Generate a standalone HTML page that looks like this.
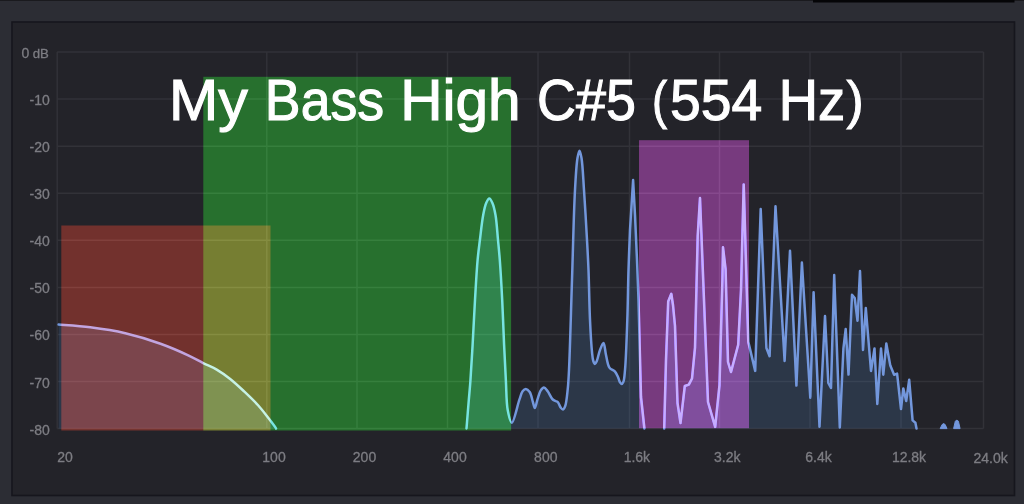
<!DOCTYPE html>
<html><head><meta charset="utf-8"><style>
html,body{margin:0;padding:0;background:#2c2d34;}
svg{display:block;}
text{font-family:"Liberation Sans",sans-serif;}
</style></head><body>
<svg width="1024" height="504" viewBox="0 0 1024 504">
<rect x="0" y="0" width="1024" height="504" fill="#2c2d34"/>
<rect x="0" y="0" width="1024" height="1" fill="#1a1a1e"/>
<rect x="813" y="0" width="201.5" height="2.5" fill="#050507"/>
<rect x="12" y="22" width="1002.5" height="473.5" fill="#232329" stroke="#16161d" stroke-width="1.6"/>
<g stroke="#323238" stroke-width="1.5" fill="none"><line x1="57.2" y1="52.1" x2="983.5" y2="52.1"/><line x1="57.2" y1="99.1" x2="983.5" y2="99.1"/><line x1="57.2" y1="146.2" x2="983.5" y2="146.2"/><line x1="57.2" y1="193.2" x2="983.5" y2="193.2"/><line x1="57.2" y1="240.3" x2="983.5" y2="240.3"/><line x1="57.2" y1="287.4" x2="983.5" y2="287.4"/><line x1="57.2" y1="334.4" x2="983.5" y2="334.4"/><line x1="57.2" y1="381.5" x2="983.5" y2="381.5"/><line x1="57.2" y1="428.5" x2="983.5" y2="428.5"/><line x1="57.2" y1="52" x2="57.2" y2="428.5"/><line x1="266.8" y1="52" x2="266.8" y2="428.5"/><line x1="357.0" y1="52" x2="357.0" y2="428.5"/><line x1="447.5" y1="52" x2="447.5" y2="428.5"/><line x1="538.0" y1="52" x2="538.0" y2="428.5"/><line x1="629.5" y1="52" x2="629.5" y2="428.5"/><line x1="719.5" y1="52" x2="719.5" y2="428.5"/><line x1="810.0" y1="52" x2="810.0" y2="428.5"/><line x1="901.0" y1="52" x2="901.0" y2="428.5"/><line x1="983.5" y1="52" x2="983.5" y2="428.5"/></g>
<g fill="#7d7d83" stroke="#7d7d83" stroke-width="0.3" font-size="14"><text x="29.2" y="58.1" text-anchor="end">0</text><text x="48.9" y="58.1" text-anchor="end" font-size="13.2">dB</text><text x="49.8" y="105.1" text-anchor="end">-10</text><text x="49.8" y="152.2" text-anchor="end">-20</text><text x="49.8" y="199.2" text-anchor="end">-30</text><text x="49.8" y="246.3" text-anchor="end">-40</text><text x="49.8" y="293.4" text-anchor="end">-50</text><text x="49.8" y="340.4" text-anchor="end">-60</text><text x="49.8" y="387.5" text-anchor="end">-70</text><text x="49.8" y="434.5" text-anchor="end">-80</text></g>
<g fill="#7d7d83" stroke="#7d7d83" stroke-width="0.3" font-size="14"><text x="65.0" y="461.8" text-anchor="middle">20</text><text x="274.0" y="461.8" text-anchor="middle">100</text><text x="364.5" y="461.8" text-anchor="middle">200</text><text x="455.0" y="461.8" text-anchor="middle">400</text><text x="545.8" y="461.8" text-anchor="middle">800</text><text x="636.9" y="461.8" text-anchor="middle">1.6k</text><text x="727.3" y="461.8" text-anchor="middle">3.2k</text><text x="818.5" y="461.8" text-anchor="middle">6.4k</text><text x="909.0" y="461.8" text-anchor="middle">12.8k</text><text x="990.6" y="462.8" text-anchor="middle">24.0k</text></g>
<path d="M58.6 428.5 L58.60 324.60 C63.87 325.05 79.42 325.94 90.20 327.30 C101.62 328.75 113.67 330.50 125.30 333.20 C137.11 335.94 149.57 339.79 160.50 343.70 C170.39 347.23 180.38 351.64 188.20 355.30 C194.15 358.08 198.66 360.83 203.60 363.30 C208.13 365.56 212.38 367.08 216.70 369.60 C221.35 372.31 226.00 375.63 230.50 379.20 C235.24 382.96 239.82 387.37 244.40 391.70 C249.09 396.13 254.19 400.95 258.30 405.50 C261.95 409.54 264.98 413.60 268.00 417.50 C270.78 421.09 275.09 426.73 275.80 428.00 C275.94 428.26 275.97 428.42 276.00 428.50 L466.50 428.50 C466.88 423.75 468.10 408.54 468.80 400.00 C469.38 393.03 469.87 388.34 470.40 381.00 C471.13 370.90 471.87 357.67 472.60 345.00 C473.41 330.84 474.14 314.56 475.00 300.00 C475.81 286.27 476.61 271.04 477.60 260.00 C478.30 252.18 479.03 247.03 479.90 240.00 C480.87 232.13 481.91 221.79 483.20 215.00 C484.11 210.24 484.87 205.95 486.20 203.00 C487.09 201.04 488.27 198.50 489.30 198.50 C490.33 198.50 491.51 201.04 492.40 203.00 C493.75 205.95 494.65 210.24 495.50 215.00 C496.71 221.78 497.25 232.13 498.00 240.00 C498.67 247.04 499.21 252.18 499.80 260.00 C500.63 271.04 501.50 286.27 502.20 300.00 C502.94 314.56 503.45 330.84 504.10 345.00 C504.68 357.67 505.26 369.65 505.90 381.00 C506.47 391.19 506.26 402.37 507.70 410.00 C508.68 415.17 510.21 422.69 511.80 422.70 C513.94 422.71 517.35 405.46 519.40 399.70 C520.65 396.19 521.21 393.11 522.60 391.30 C523.52 390.10 524.69 388.98 525.80 389.00 C527.04 389.02 528.63 390.48 529.70 392.00 C531.26 394.22 531.97 399.09 532.90 402.00 C533.62 404.25 534.12 408.00 534.80 408.00 C535.60 408.00 536.46 402.52 537.40 399.70 C538.39 396.73 539.22 392.75 540.60 390.60 C541.55 389.11 542.77 387.38 543.90 387.40 C545.13 387.42 546.46 389.69 547.70 391.30 C549.29 393.36 550.70 397.37 552.30 399.00 C553.34 400.06 554.49 400.42 555.50 401.00 C556.37 401.50 557.26 401.55 558.00 402.30 C559.06 403.36 559.61 406.16 560.60 407.40 C561.33 408.32 562.27 409.51 563.00 409.40 C563.83 409.27 564.57 407.66 565.20 406.00 C566.48 402.63 567.07 395.16 567.70 389.40 C568.37 383.20 568.56 378.84 569.00 370.00 C569.95 350.98 571.00 310.00 572.00 280.00 C573.00 250.00 573.75 212.40 575.00 190.00 C575.74 176.63 576.30 164.86 577.50 158.00 C578.08 154.67 578.83 150.70 579.50 150.70 C580.17 150.70 580.92 154.67 581.50 158.00 C582.70 164.86 583.18 178.14 584.00 190.00 C585.02 204.81 586.20 225.45 587.00 240.00 C587.62 251.27 588.05 258.73 588.50 270.00 C589.08 284.55 589.32 305.19 590.00 320.00 C590.55 331.86 591.24 344.62 592.00 352.00 C592.41 355.93 592.57 358.85 593.30 361.00 C593.75 362.32 594.42 363.99 595.00 364.00 C595.59 364.01 596.20 362.37 596.80 361.00 C597.88 358.53 598.74 353.20 600.00 350.00 C601.04 347.35 602.56 342.88 603.50 343.00 C604.68 343.15 605.04 350.97 606.00 355.00 C606.99 359.16 607.43 364.77 609.40 367.60 C610.83 369.66 613.55 369.98 615.00 371.60 C616.37 373.14 617.18 375.20 618.00 377.00 C618.76 378.67 619.08 380.76 619.80 382.00 C620.31 382.87 620.92 383.99 621.50 384.00 C622.09 384.01 622.81 383.06 623.30 382.00 C624.35 379.76 624.50 375.39 625.00 370.00 C626.02 359.06 626.72 336.67 627.30 320.00 C627.88 303.34 628.02 285.74 628.50 270.00 C628.93 255.92 629.75 236.67 630.00 230.00 L630.00 230.00 L633.10 180.00 L635.00 215.00 L637.00 260.00 L638.50 300.00 L641.00 397.00 L644.40 428.50 L664.20 428.50 L664.20 428.50 L666.00 360.00 L668.20 301.50 L671.30 293.80 L673.00 305.00 L675.00 326.00 L677.50 403.00 L680.50 423.00 L684.80 386.00 L688.80 384.60 L692.00 378.50 L695.00 347.70 L697.70 236.00 L700.00 198.00 L703.60 290.00 L708.00 402.00 L715.20 426.90 L719.50 385.00 L722.40 280.00 L723.00 247.30 L725.60 269.50 L728.00 362.00 L731.00 372.00 L738.20 344.80 L741.00 290.00 L743.70 184.40 L748.30 341.90 L755.20 370.90 L760.70 209.00 L766.40 348.00 L769.60 356.20 L775.50 206.20 L784.60 361.00 L790.00 250.70 L796.40 385.60 L801.90 262.60 L810.30 397.70 L813.60 292.30 L819.50 426.70 L825.00 316.00 L828.30 383.00 L831.00 388.00 L834.20 275.00 L839.80 427.40 L843.40 348.70 L845.70 329.00 L848.50 374.60 L852.00 294.70 L854.70 298.00 L857.50 320.80 L860.00 271.00 L863.00 350.00 L865.80 308.00 L871.00 371.00 L874.50 348.50 L877.30 404.00 L881.00 348.50 L883.30 374.70 L886.30 343.50 L890.30 365.60 L894.10 374.80 L897.10 373.60 L901.00 409.00 L903.30 388.40 L906.20 401.00 L909.20 379.80 L912.60 420.40 L915.40 422.70 L916.50 428.50 L984 428.5 Z" fill="rgb(80,135,201)" fill-opacity="0.2" stroke="none"/>
<g fill="none" stroke="#7397dc" stroke-width="2.5" stroke-linejoin="round" stroke-linecap="round">
<path d="M58.60 324.60 C63.87 325.05 79.42 325.94 90.20 327.30 C101.62 328.75 113.67 330.50 125.30 333.20 C137.11 335.94 149.57 339.79 160.50 343.70 C170.39 347.23 180.38 351.64 188.20 355.30 C194.15 358.08 198.66 360.83 203.60 363.30 C208.13 365.56 212.38 367.08 216.70 369.60 C221.35 372.31 226.00 375.63 230.50 379.20 C235.24 382.96 239.82 387.37 244.40 391.70 C249.09 396.13 254.19 400.95 258.30 405.50 C261.95 409.54 264.98 413.60 268.00 417.50 C270.78 421.09 275.09 426.73 275.80 428.00 C275.94 428.26 275.97 428.42 276.00 428.50"/><path d="M466.50 428.50 C466.88 423.75 468.10 408.54 468.80 400.00 C469.38 393.03 469.87 388.34 470.40 381.00 C471.13 370.90 471.87 357.67 472.60 345.00 C473.41 330.84 474.14 314.56 475.00 300.00 C475.81 286.27 476.61 271.04 477.60 260.00 C478.30 252.18 479.03 247.03 479.90 240.00 C480.87 232.13 481.91 221.79 483.20 215.00 C484.11 210.24 484.87 205.95 486.20 203.00 C487.09 201.04 488.27 198.50 489.30 198.50 C490.33 198.50 491.51 201.04 492.40 203.00 C493.75 205.95 494.65 210.24 495.50 215.00 C496.71 221.78 497.25 232.13 498.00 240.00 C498.67 247.04 499.21 252.18 499.80 260.00 C500.63 271.04 501.50 286.27 502.20 300.00 C502.94 314.56 503.45 330.84 504.10 345.00 C504.68 357.67 505.26 369.65 505.90 381.00 C506.47 391.19 506.26 402.37 507.70 410.00 C508.68 415.17 510.21 422.69 511.80 422.70 C513.94 422.71 517.35 405.46 519.40 399.70 C520.65 396.19 521.21 393.11 522.60 391.30 C523.52 390.10 524.69 388.98 525.80 389.00 C527.04 389.02 528.63 390.48 529.70 392.00 C531.26 394.22 531.97 399.09 532.90 402.00 C533.62 404.25 534.12 408.00 534.80 408.00 C535.60 408.00 536.46 402.52 537.40 399.70 C538.39 396.73 539.22 392.75 540.60 390.60 C541.55 389.11 542.77 387.38 543.90 387.40 C545.13 387.42 546.46 389.69 547.70 391.30 C549.29 393.36 550.70 397.37 552.30 399.00 C553.34 400.06 554.49 400.42 555.50 401.00 C556.37 401.50 557.26 401.55 558.00 402.30 C559.06 403.36 559.61 406.16 560.60 407.40 C561.33 408.32 562.27 409.51 563.00 409.40 C563.83 409.27 564.57 407.66 565.20 406.00 C566.48 402.63 567.07 395.16 567.70 389.40 C568.37 383.20 568.56 378.84 569.00 370.00 C569.95 350.98 571.00 310.00 572.00 280.00 C573.00 250.00 573.75 212.40 575.00 190.00 C575.74 176.63 576.30 164.86 577.50 158.00 C578.08 154.67 578.83 150.70 579.50 150.70 C580.17 150.70 580.92 154.67 581.50 158.00 C582.70 164.86 583.18 178.14 584.00 190.00 C585.02 204.81 586.20 225.45 587.00 240.00 C587.62 251.27 588.05 258.73 588.50 270.00 C589.08 284.55 589.32 305.19 590.00 320.00 C590.55 331.86 591.24 344.62 592.00 352.00 C592.41 355.93 592.57 358.85 593.30 361.00 C593.75 362.32 594.42 363.99 595.00 364.00 C595.59 364.01 596.20 362.37 596.80 361.00 C597.88 358.53 598.74 353.20 600.00 350.00 C601.04 347.35 602.56 342.88 603.50 343.00 C604.68 343.15 605.04 350.97 606.00 355.00 C606.99 359.16 607.43 364.77 609.40 367.60 C610.83 369.66 613.55 369.98 615.00 371.60 C616.37 373.14 617.18 375.20 618.00 377.00 C618.76 378.67 619.08 380.76 619.80 382.00 C620.31 382.87 620.92 383.99 621.50 384.00 C622.09 384.01 622.81 383.06 623.30 382.00 C624.35 379.76 624.50 375.39 625.00 370.00 C626.02 359.06 626.72 336.67 627.30 320.00 C627.88 303.34 628.02 285.74 628.50 270.00 C628.93 255.92 629.75 236.67 630.00 230.00 L630.00 230.00 L633.10 180.00 L635.00 215.00 L637.00 260.00 L638.50 300.00 L641.00 397.00 L644.40 428.50"/><path d="M664.20 428.50 L666.00 360.00 L668.20 301.50 L671.30 293.80 L673.00 305.00 L675.00 326.00 L677.50 403.00 L680.50 423.00 L684.80 386.00 L688.80 384.60 L692.00 378.50 L695.00 347.70 L697.70 236.00 L700.00 198.00 L703.60 290.00 L708.00 402.00 L715.20 426.90 L719.50 385.00 L722.40 280.00 L723.00 247.30 L725.60 269.50 L728.00 362.00 L731.00 372.00 L738.20 344.80 L741.00 290.00 L743.70 184.40 L748.30 341.90 L755.20 370.90 L760.70 209.00 L766.40 348.00 L769.60 356.20 L775.50 206.20 L784.60 361.00 L790.00 250.70 L796.40 385.60 L801.90 262.60 L810.30 397.70 L813.60 292.30 L819.50 426.70 L825.00 316.00 L828.30 383.00 L831.00 388.00 L834.20 275.00 L839.80 427.40 L843.40 348.70 L845.70 329.00 L848.50 374.60 L852.00 294.70 L854.70 298.00 L857.50 320.80 L860.00 271.00 L863.00 350.00 L865.80 308.00 L871.00 371.00 L874.50 348.50 L877.30 404.00 L881.00 348.50 L883.30 374.70 L886.30 343.50 L890.30 365.60 L894.10 374.80 L897.10 373.60 L901.00 409.00 L903.30 388.40 L906.20 401.00 L909.20 379.80 L912.60 420.40 L915.40 422.70 L916.50 428.50"/>
</g>
<path d="M940.2 428.6 C941.5 425.5 942.5 423.6 943.6 423.6 C944.8 423.6 945.8 425.5 947 428.6 Z M953.6 428.6 L955.3 421.2 C955.8 420 957.9 420 958.4 421.2 L960.1 428.6 Z" fill="#7397dc" stroke="#7397dc" stroke-width="1" stroke-linejoin="round"/>
<g style="isolation:auto">
<rect x="61.3" y="225.5" width="209.2" height="205" fill="#4f0e04" style="mix-blend-mode:plus-lighter"/>
<rect x="203.3" y="76.8" width="307.8" height="353.7" fill="#044d05" style="mix-blend-mode:plus-lighter"/>
<rect x="639" y="140.2" width="110" height="288" fill="#541755" style="mix-blend-mode:plus-lighter"/>
</g>
<g fill="#ffffff" stroke="#ffffff" stroke-width="1.1" font-size="57.3"><text transform="translate(169.07 120) scale(1.0329 1)">My</text><text transform="translate(264.86 120) scale(0.9361 1)">Bass</text><text transform="translate(400.21 120) scale(1.0225 1)">High</text><text transform="translate(537.12 120) scale(0.9406 1)">C#5</text><text transform="translate(651.92 117.95) scale(0.7938 0.90)">(</text><text transform="translate(670.07 120) scale(0.9656 1)">554</text><text transform="translate(778.80 120) scale(0.9500 1)">Hz</text><text transform="translate(846.60 117.95) scale(0.9000 0.90)">)</text></g>
</svg>
</body></html>
